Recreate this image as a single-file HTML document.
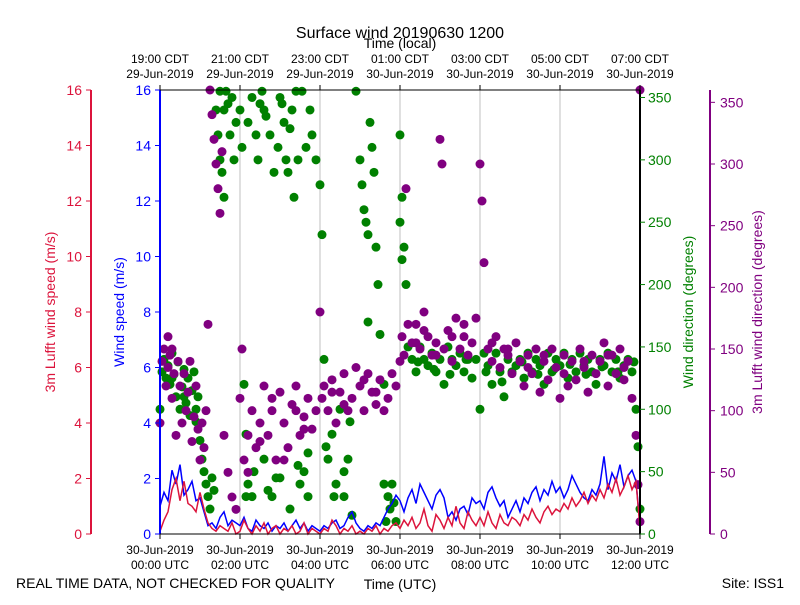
<!DOCTYPE html>
<html><head><meta charset="utf-8"><style>
body{margin:0;background:#fff;}
svg text{font-family:"Liberation Sans","DejaVu Sans",sans-serif;}
</style></head><body>
<svg id="chart" width="800" height="600" xmlns="http://www.w3.org/2000/svg">
<g id="grid"></g>
<g id="plot" clip-path="url(#clip)"></g>
<defs><clipPath id="clip"><rect x="155" y="85" width="490" height="454"/></clipPath></defs>
<g id="axes"></g>
<text x="400" y="38" font-size="16" text-anchor="middle">Surface wind 20190630 1200</text>
<text x="400" y="48" font-size="14" text-anchor="middle">Time (local)</text>
<text x="400" y="589" font-size="14" text-anchor="middle">Time (UTC)</text>
<text x="16" y="588" font-size="14">REAL TIME DATA, NOT CHECKED FOR QUALITY</text>
<text x="784" y="588" font-size="14" text-anchor="end">Site: ISS1</text>
<text transform="translate(55,312) rotate(-90)" font-size="14" fill="#dc143c" text-anchor="middle">3m Lufft wind speed (m/s)</text>
<text transform="translate(124,312) rotate(-90)" font-size="14" fill="#0000ff" text-anchor="middle">Wind speed (m/s)</text>
<text transform="translate(693,312) rotate(-90)" font-size="14" fill="#008000" text-anchor="middle">Wind direction (degrees)</text>
<text transform="translate(762,312) rotate(-90)" font-size="14" fill="#800080" text-anchor="middle">3m Lufft wind direction (degrees)</text>
</svg>
<script>
const speedTimes=[0,0.1,0.2,0.3,0.4,0.5,0.6,0.7,0.8,0.9,1,1.1,1.2,1.3,1.4,1.5,1.6,1.7,1.8,1.9,2,2.1,2.2,2.3,2.4,2.5,2.6,2.7,2.8,2.9,3,3.1,3.2,3.3,3.4,3.5,3.6,3.7,3.8,3.9,4,4.1,4.2,4.3,4.4,4.5,4.6,4.7,4.8,4.9,5,5.1,5.2,5.3,5.4,5.5,5.6,5.7,5.8,5.9,6,6.1,6.2,6.3,6.4,6.5,6.6,6.7,6.8,6.9,7,7.1,7.2,7.3,7.4,7.5,7.6,7.7,7.8,7.9,8,8.1,8.2,8.3,8.4,8.5,8.6,8.7,8.8,8.9,9,9.1,9.2,9.3,9.4,9.5,9.6,9.7,9.8,9.9,10,10.1,10.2,10.3,10.4,10.5,10.6,10.7,10.8,10.9,11,11.1,11.2,11.3,11.4,11.5,11.6,11.7,11.8,11.9,12];
const windSpeed=[1.0,1.5,1.2,2.3,1.8,2.5,1.4,1.6,1.9,1.2,1.3,0.8,0.3,0.4,0.2,0.6,0.8,0.3,0.5,0.4,0.3,0.6,0.2,0.1,0.5,0.3,0.2,0.4,0.1,0.3,0.2,0.4,0.1,0.3,0.5,0.2,0.4,0.1,0.3,0.2,0.1,0.3,0.2,0.4,0.5,0.2,0.3,0.6,0.8,0.4,0.2,0.1,0.3,0.2,0.4,0.3,0.6,0.9,1.1,1.4,1.2,0.8,1.3,1.6,1.1,1.8,1.5,1.2,0.9,1.4,1.6,1.3,0.6,0.8,0.5,0.9,1.0,0.7,1.3,1.1,1.2,0.9,1.5,1.7,1.3,1.0,1.2,0.6,0.9,1.2,0.8,1.3,1.1,1.5,1.7,1.2,1.6,1.4,1.9,1.5,1.7,1.3,1.6,2.1,1.8,1.5,1.3,1.2,1.6,1.4,1.8,2.8,1.6,2.2,1.9,2.5,1.7,2.1,2.3,1.9,0.3];
const lufftSpeed=[0.1,0.5,0.8,1.6,2.0,1.2,1.9,1.1,1.0,0.8,1.5,0.9,0.4,0.2,0.1,0.3,0.2,0.1,0.4,0.0,0.1,0.5,0.2,0.0,0.3,0.1,0.4,0.0,0.2,0.3,0.0,0.2,0.1,0.3,0.0,0.1,0.4,0.0,0.2,0.1,0.0,0.2,0.1,0.5,0.3,0.0,0.2,0.1,0.3,0.0,0.1,0.0,0.2,0.1,0.3,0.0,0.2,0.1,0.3,0.4,0.2,0.5,0.3,0.6,0.2,0.4,0.9,0.3,0.1,0.7,0.5,0.2,0.6,0.3,1.0,0.4,0.2,0.8,0.5,0.3,0.6,0.3,0.8,0.4,0.2,0.7,0.4,0.3,0.6,0.5,0.3,0.7,0.5,0.9,0.6,0.4,0.8,1.0,0.7,0.9,0.8,1.1,0.9,1.3,1.0,1.2,1.5,1.1,1.4,1.2,1.6,1.3,1.8,1.5,2.0,1.4,1.7,2.1,1.6,1.9,0.2];
const dirTimes=[0,0.05,0.1,0.15,0.2,0.25,0.3,0.35,0.4,0.45,0.5,0.55,0.6,0.65,0.7,0.75,0.8,0.85,0.9,0.95,1.0,1.05,1.1,1.15,1.2,1.25,1.3,1.35,1.4,1.45,1.5,1.55,1.6,1.65,1.7,1.8,1.9,2.0,2.05,2.1,2.15,2.2,2.3,2.4,2.5,2.6,2.7,2.8,2.9,3.0,3.1,3.15,3.2,3.3,3.4,3.5,3.6,3.7,3.8,3.9,4.0,4.05,4.1,4.2,4.3,4.4,4.5,4.6,4.7,4.8,4.9,5.0,5.05,5.1,5.15,5.2,5.3,5.35,5.4,5.5,5.6,5.7,5.75,5.8,5.9,6.0,6.05,6.1,6.15,6.2,6.3,6.4,6.5,6.6,6.7,6.8,6.9,7.0,7.1,7.2,7.3,7.4,7.5,7.6,7.7,7.8,7.9,8.0,8.1,8.2,8.3,8.4,8.5,8.6,8.7,8.8,8.9,9.0,9.1,9.2,9.3,9.4,9.5,9.6,9.7,9.8,9.9,10.0,10.1,10.2,10.3,10.4,10.5,10.6,10.7,10.8,10.9,11.0,11.1,11.2,11.3,11.4,11.5,11.6,11.7,11.8,11.9,11.95,12.0,
1.5,1.6,1.75,1.85,2.2,2.3,2.45,2.55,2.65,2.75,2.85,2.95,3.05,3.25,3.35,3.45,3.55,3.65,3.75,2.15,2.35,2.6,3.0,3.25,3.45,3.7,4.15,4.35,4.6,4.75,5.2,5.25,5.45,5.6,5.65,5.85,6.0,6.05,0.3,0.6,0.9,6.45,6.85,7.25,7.65,8.15,8.55,9.05,9.45,9.85,10.25,10.65,11.05,11.45,11.85];
const windDir=[100,130,140,125,135,120,145,128,110,138,100,118,132,105,125,95,115,130,90,110,75,60,50,40,30,20,45,35,340,320,300,290,270,355,345,350,330,340,310,120,80,40,30,320,345,340,35,30,45,350,330,300,290,340,355,40,50,30,320,300,280,240,140,60,80,40,100,30,60,15,355,300,280,260,250,170,310,290,230,160,120,30,20,40,10,320,270,230,200,150,140,130,150,140,135,145,130,140,120,150,140,135,145,130,140,125,140,100,145,135,120,145,130,110,140,130,135,140,125,145,130,140,135,120,145,130,140,135,145,125,140,130,145,135,140,130,120,140,135,145,130,140,125,135,140,130,100,70,20,
355,340,320,300,330,350,300,355,335,320,290,310,345,325,270,300,355,310,340,30,50,60,45,20,55,65,70,30,50,90,240,330,200,40,10,25,250,220,125,110,100,138,132,128,140,130,122,138,128,132,136,128,134,130,138];
const lufftTimes=[0,0.05,0.1,0.15,0.2,0.25,0.3,0.35,0.4,0.45,0.5,0.55,0.6,0.65,0.7,0.75,0.8,0.85,0.9,0.95,1.0,1.05,1.1,1.15,1.2,1.25,1.3,1.35,1.4,1.45,1.5,1.55,1.6,1.7,1.8,1.9,2.0,2.05,2.1,2.2,2.3,2.4,2.5,2.6,2.7,2.8,2.9,3.0,3.1,3.2,3.3,3.4,3.5,3.6,3.7,3.8,3.9,4.0,4.05,4.1,4.2,4.3,4.4,4.5,4.6,4.7,4.8,4.9,5.0,5.1,5.2,5.3,5.4,5.5,5.6,5.7,5.8,5.9,6.0,6.05,6.1,6.15,6.2,6.3,6.4,6.5,6.6,6.7,6.8,6.9,7.0,7.05,7.1,7.2,7.3,7.4,7.5,7.6,7.7,7.8,7.9,8.0,8.05,8.1,8.2,8.3,8.4,8.5,8.6,8.7,8.8,8.9,9.0,9.1,9.2,9.3,9.4,9.5,9.6,9.7,9.8,9.9,10.0,10.1,10.2,10.3,10.4,10.5,10.6,10.7,10.8,10.9,11.0,11.1,11.2,11.3,11.4,11.5,11.6,11.7,11.8,11.9,11.95,12.0,12.0,
0.2,0.3,2.2,2.5,2.8,3.1,3.4,3.6,4.3,4.6,5.1,5.4,6.4,6.6,6.9,7.3,7.6,8.3,8.7,9.2,9.6,10.1,10.6,11.2,11.6];
const lufftDir=[90,140,150,120,135,145,110,130,80,140,120,90,130,100,115,140,75,95,120,85,60,90,70,100,170,360,340,320,300,280,260,310,80,50,30,20,110,150,60,80,100,70,90,120,80,100,60,115,90,70,105,120,80,95,110,85,100,180,110,120,100,125,90,115,130,100,110,135,120,100,130,115,105,125,100,110,130,120,140,160,145,280,170,155,170,150,180,160,145,155,320,300,150,165,140,175,150,160,145,155,175,300,270,220,150,140,160,135,150,145,130,155,140,120,145,130,150,115,140,125,150,135,110,145,120,140,125,150,135,115,145,130,140,155,120,145,130,150,125,140,110,80,40,360,10,
160,150,50,75,110,60,100,85,115,105,125,115,155,165,145,160,170,155,150,135,145,130,140,145,135];
const leftTicks=[0,2,4,6,8,10,12,14,16];
const dirTicks=[0,50,100,150,200,250,300,350];
const timeTicks=[0,2,4,6,8,10,12];
const utcDates=["30-Jun-2019","30-Jun-2019","30-Jun-2019","30-Jun-2019","30-Jun-2019","30-Jun-2019","30-Jun-2019"];
const utcTimes=["00:00 UTC","02:00 UTC","04:00 UTC","06:00 UTC","08:00 UTC","10:00 UTC","12:00 UTC"];
const localTimes=["19:00 CDT","21:00 CDT","23:00 CDT","01:00 CDT","03:00 CDT","05:00 CDT","07:00 CDT"];
const localDates=["29-Jun-2019","29-Jun-2019","29-Jun-2019","30-Jun-2019","30-Jun-2019","30-Jun-2019","30-Jun-2019"];

const X0=160,X1=640,Y0=534,Y1=90;
const xs=t=>X0+(t/12)*(X1-X0);
const ys=v=>Y0-(v/16)*(Y0-Y1);
const yd=d=>Y0-(d/356)*(Y0-Y1);
const yp=d=>Y0-(d/360)*(Y0-Y1);
const NS="http://www.w3.org/2000/svg";
function mk(tag,attrs,parent,txt){const e=document.createElementNS(NS,tag);for(const k in attrs)e.setAttribute(k,attrs[k]);if(txt!==undefined)e.textContent=txt;parent.appendChild(e);return e;}
const grid=document.getElementById('grid'),plot=document.getElementById('plot'),axes=document.getElementById('axes');

timeTicks.forEach(t=>{if(t>0&&t<12){const l=mk('line',{x1:xs(t),x2:xs(t),y1:Y1,y2:Y0,stroke:'#b0b0b0','stroke-width':0.8},grid);

}});

windDir.forEach((d,i)=>{const c=mk('circle',{cx:xs(dirTimes[i]),cy:yd(d),r:4.5,fill:'#008000'},plot);

});
lufftDir.forEach((d,i)=>{const c=mk('circle',{cx:xs(lufftTimes[i]),cy:yp(d),r:4.5,fill:'#800080'},plot);

});
const bl=mk('polyline',{points:windSpeed.map((v,i)=>xs(speedTimes[i])+','+ys(v)).join(' '),fill:'none',stroke:'#0000ff','stroke-width':1.5},plot);


const rl=mk('polyline',{points:lufftSpeed.map((v,i)=>xs(speedTimes[i])+','+ys(v)).join(' '),fill:'none',stroke:'#dc143c','stroke-width':1.5},plot);



const spines=[[91,'#dc143c','lufft-speed-axis-line'],[160,'#0000ff','speed-axis-line'],[640,'#000','direction-axis-line'],[710,'#800080','lufft-direction-axis-line']];
spines.forEach(s=>{const l=mk('line',{x1:s[0],x2:s[0],y1:Y1,y2:Y0,stroke:s[1],'stroke-width':2},axes);

});
const tl=mk('line',{x1:X0,x2:X1,y1:Y1,y2:Y1,stroke:'#000','stroke-width':1},axes);


const bt=mk('line',{x1:X0,x2:X1,y1:Y0,y2:Y0,stroke:'#000','stroke-width':1},axes);



leftTicks.forEach(v=>{const y=ys(v);
[[91,'#dc143c','lufft-speed-tick-label'],[160,'#0000ff','speed-tick-label']].forEach(a=>{
mk('line',{x1:a[0]-5,x2:a[0],y1:y,y2:y,stroke:a[1],'stroke-width':1},axes);
const t=mk('text',{x:a[0]-9,y:y+5,'font-size':14,fill:a[1],'text-anchor':'end'},axes,String(v));

});});
dirTicks.forEach(v=>{
const y=yd(v);mk('line',{x1:640,x2:645,y1:y,y2:y,stroke:'#008000'},axes);
const t=mk('text',{x:648,y:y+5,'font-size':14,fill:'#008000'},axes,String(v));


const y2=yp(v);mk('line',{x1:710,x2:715,y1:y2,y2:y2,stroke:'#800080'},axes);
const t2=mk('text',{x:720,y:y2+5,'font-size':14,fill:'#800080'},axes,String(v));

});
timeTicks.forEach((h,i)=>{const x=xs(h);
mk('line',{x1:x,x2:x,y1:Y0,y2:Y0+5,stroke:'#000'},axes);
mk('line',{x1:x,x2:x,y1:Y1-5,y2:Y1,stroke:'#000'},axes);
const a=mk('text',{x:x,y:554,'font-size':12,'text-anchor':'middle'},axes,utcDates[i]);


const b=mk('text',{x:x,y:569,'font-size':12,'text-anchor':'middle'},axes,utcTimes[i]);


const c=mk('text',{x:x,y:63,'font-size':12,'text-anchor':'middle'},axes,localTimes[i]);


const d=mk('text',{x:x,y:78,'font-size':12,'text-anchor':'middle'},axes,localDates[i]);

});
</script>
</body></html>
